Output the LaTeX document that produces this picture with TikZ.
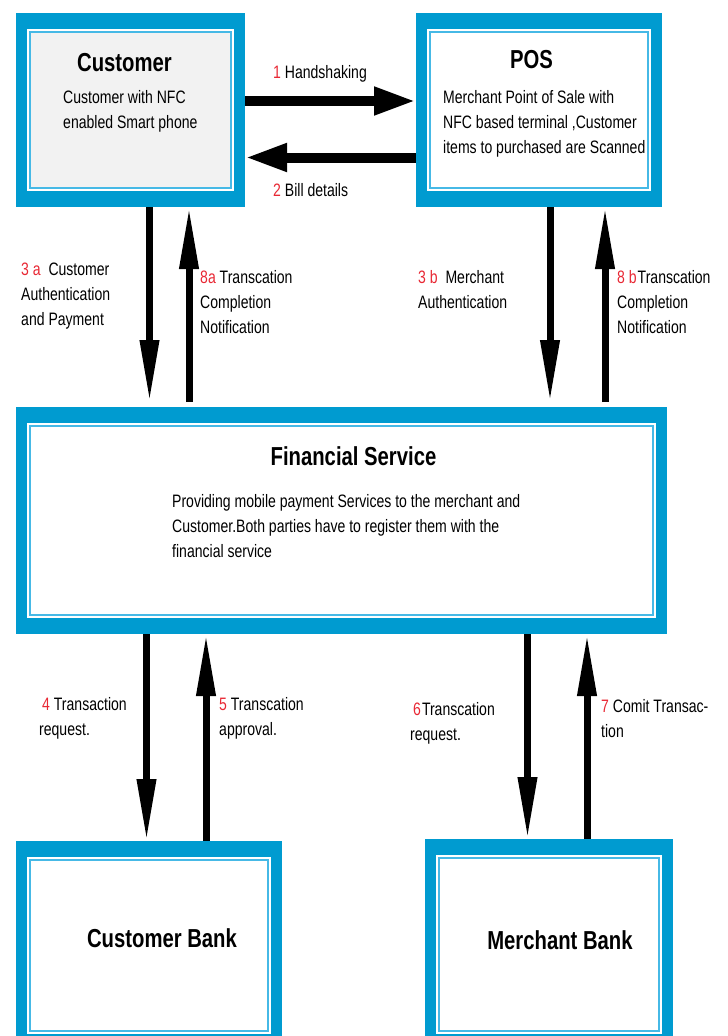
\documentclass[tikz,border=0pt]{standalone}
\usepackage{fontspec}
\setmainfont{Liberation Sans}[FakeStretch=0.78]
\usepackage{tikz}
\usetikzlibrary{arrows.meta, positioning}

\definecolor{boxblue}{RGB}{0,155,208}
\definecolor{lineblue}{RGB}{70,185,230}
\definecolor{numred}{RGB}{232,40,52}
\definecolor{custgray}{RGB}{242,242,242}

\begin{document}
\begin{tikzpicture}[x=1pt, y=-1pt,
    panel/.style={rectangle, fill=boxblue, inner sep=0pt, outer sep=0pt,
        path picture={
            \fill[white] ([xshift=11pt,yshift=-16pt]path picture bounding box.north west)
                rectangle ([xshift=-11pt,yshift=16pt]path picture bounding box.south east);
            \filldraw[fill=#1, draw=lineblue, line width=1.5pt]
                ([xshift=14pt,yshift=-19pt]path picture bounding box.north west)
                rectangle ([xshift=-14pt,yshift=19pt]path picture bounding box.south east);
        }},
    panel/.default=white]
    \tikzstyle{title} = [anchor=base, inner sep=0pt, font=\fontsize{26}{30}\selectfont\bfseries]
    \tikzstyle{body} = [anchor=north west, align=left, inner sep=0pt, font=\fontsize{18}{25}\selectfont]
    \tikzstyle{lbl} = [anchor=north west, align=left, inner sep=0pt, font=\fontsize{18}{25}\selectfont]
    \tikzstyle{harrow} = [line width=10pt, -{Triangle[length=42pt,width=26pt]}]
    \tikzstyle{varrow} = [line width=7pt, -{Triangle[length=62pt,width=18pt]}]

    \useasboundingbox (0,0) rectangle (728,1036);
    \clip (0,0) rectangle (728,1036);

    \node (cust) [panel=custgray, minimum width=229pt, minimum height=194pt] at (130.5,110) {};
    \node (pos) [panel, minimum width=246pt, minimum height=194pt] at (539,110) {};
    \node (fin) [panel, minimum width=651pt, minimum height=227pt] at (341.5,520.5) {};
    \node (cbank) [panel, minimum width=266pt, minimum height=209pt] at (149,945.5) {};
    \node (mbank) [panel, minimum width=248pt, minimum height=211pt] at (549,944.5) {};

    \node (custtitle) [title] at (124.5,71) {Customer};
    \node (custtext) [body] at (63,90) {Customer with NFC\\enabled Smart phone};
    \node (postitle) [title] at (531.5,68) {POS};
    \node (postext) [body] at (443,90) {Merchant Point of Sale with\\NFC based terminal ,Customer\\items to purchased are Scanned};
    \node (fintitle) [title] at (353.5,465) {Financial Service};
    \node (fintext) [body] at (172,494) {Providing mobile payment Services to the merchant and\\Customer.Both parties have to register them with the\\financial service};
    \node (cbanktitle) [title] at (162,947) {Customer Bank};
    \node (mbanktitle) [title] at (560,949) {Merchant Bank};

    \node (lab1) [lbl] at (273,65) {\textcolor{numred}{1} Handshaking};
    \node (lab2) [lbl] at (273,183) {\textcolor{numred}{2} Bill details};
    \node (lab3a) [lbl] at (21,263) {\textcolor{numred}{3 a}\ \ Customer\\Authentication\\and Payment};
    \node (lab8a) [lbl] at (200,270) {\textcolor{numred}{8a} Transcation\\Completion\\Notification};
    \node (lab3b) [lbl] at (418,270) {\textcolor{numred}{3 b}\ \ Merchant\\Authentication};
    \node (lab8b) [lbl] at (617,270) {\textcolor{numred}{8 b}\hspace{1pt}Transcation\\Completion\\Notification};
    \node (lab4) [lbl] at (39,697) {\hspace*{3pt}\textcolor{numred}{4} Transaction\\request.};
    \node (lab5) [lbl] at (219,697) {\textcolor{numred}{5} Transcation\\approval.};
    \node (lab6) [lbl] at (410,702) {\hspace*{3pt}\textcolor{numred}{6}\hspace{1pt}Transcation\\request.};
    \node (lab7) [lbl] at (601,699) {\textcolor{numred}{7} Comit Transac-\\tion};

    \draw [harrow] ([yshift=9pt]cust.east) -- ([yshift=9pt]pos.west);
    \draw [harrow] ([yshift=-47.5pt]pos.west) -- ([yshift=-47.5pt]cust.east);
    \draw [varrow, shorten >=5pt] ([xshift=19pt]cust.south) -- ([xshift=19pt]cust.south |- fin.north);
    \draw [varrow, shorten <=5pt] ([xshift=58.5pt]cust.south |- fin.north) -- ([xshift=58.5pt]cust.south);
    \draw [varrow, shorten >=5pt] ([xshift=11pt]pos.south) -- ([xshift=11pt]pos.south |- fin.north);
    \draw [varrow, shorten <=5pt] ([xshift=66pt]pos.south |- fin.north) -- ([xshift=66pt]pos.south);
    \draw [varrow] ([xshift=-2.5pt]cbank.north |- fin.south) -- ([xshift=-2.5pt]cbank.north);
    \draw [varrow] ([xshift=57pt]cbank.north) -- ([xshift=57pt]cbank.north |- fin.south);
    \draw [varrow] ([xshift=-21.5pt]mbank.north |- fin.south) -- ([xshift=-21.5pt]mbank.north);
    \draw [varrow] ([xshift=38pt]mbank.north) -- ([xshift=38pt]mbank.north |- fin.south);
\end{tikzpicture}
\end{document}
